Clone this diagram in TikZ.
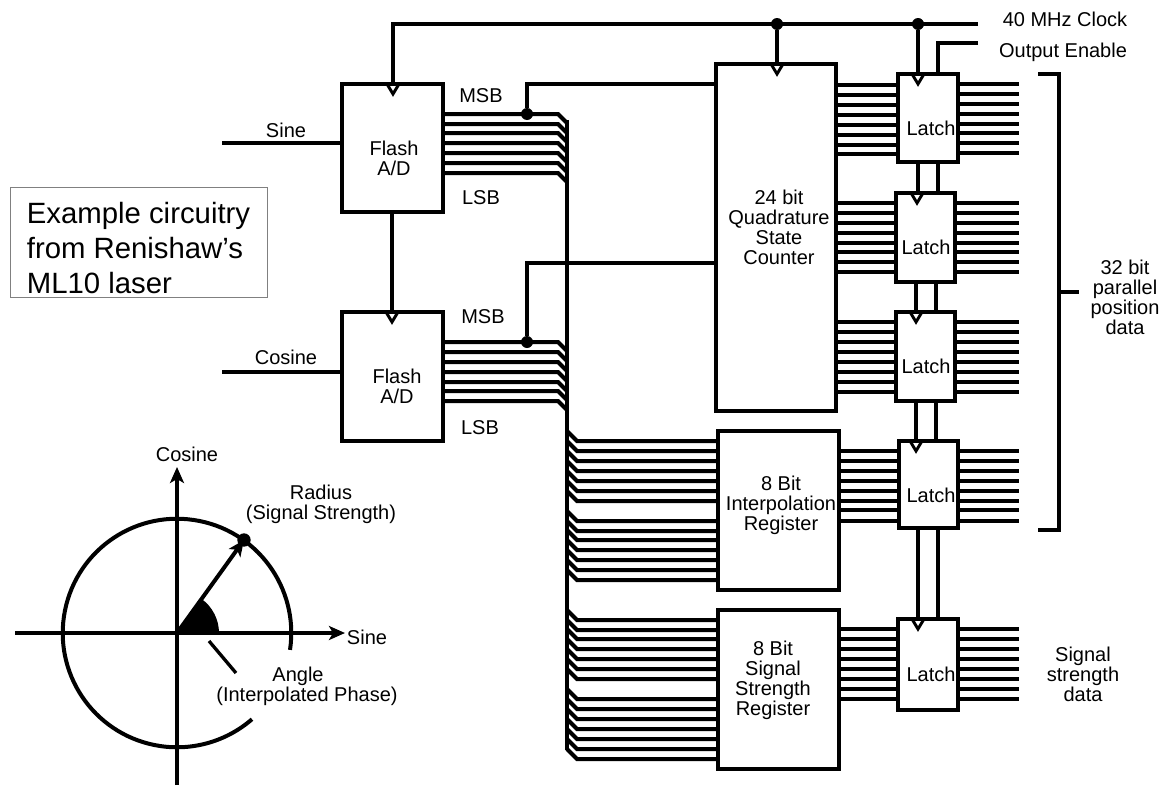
\documentclass[tikz,border=0pt]{standalone}
\usepackage{fontspec}
\setmainfont{Liberation Sans}
\usetikzlibrary{arrows.meta,calc}
\newcommand{\boxat}[5]{\node[boxstyle,minimum width={(#4-#2)*0.75pt},minimum height={(#5-#3)*0.75pt}] (#1) at ({(#2+#4)/2},{(#3+#5)/2}) {};}
\newcommand{\clockmark}[2]{\draw[markstyle] ({#2-6},0 |- #1.north) -- ([yshift=-7.5pt]#2,0 |- #1.north) -- ({#2+6},0 |- #1.north);}
\tikzset{
  boxstyle/.style={draw=black,line width=2.9pt,fill=white,inner sep=0pt,outer sep=0pt,rectangle},
  wire/.style={draw=black,line width=3pt,line cap=butt,line join=miter},
  thinwire/.style={draw=black,line width=2.5pt,line cap=butt},
  markstyle/.style={draw=black,line width=2.2pt,line join=miter},
  txt/.style={font=\fontsize{15}{15}\selectfont,inner sep=0pt,outer sep=0pt,align=center,text=black},
  dotstyle/.style={circle,fill=black,inner sep=0pt,minimum size=9pt,outer sep=0pt},
  headstyle/.style={-{Stealth[length=12pt,width=10.5pt,inset=3pt]}},
}
\begin{document}
\begin{tikzpicture}[x=0.75pt,y=-0.75pt]
\useasboundingbox (0,0) rectangle (1166,785);
% free ends
\coordinate (clkEnd) at (978,24);
\coordinate (oeEnd) at (978,43);
\coordinate (sineIn) at (222,143);
\coordinate (cosIn) at (222,372);
\coordinate (outR) at (1019,0);
\coordinate (busX) at (567,0);
\coordinate (busR) at (577,0);
\coordinate (busBend) at (558,0);
\coordinate (busTop) at (567,120);
\coordinate (busBot) at (567,750);
% boxes
\boxat{fa}{342}{84}{443}{212}
\boxat{fb}{342}{312}{443}{441}
\boxat{cnt}{716}{64}{836}{411}
\boxat{reg}{718}{431}{839}{590}
\boxat{sig}{718}{610}{839}{769}
\boxat{la}{898}{74}{958}{162}
\boxat{lb}{896}{193}{955}{282}
\boxat{lc}{896}{312}{955}{401}
\boxat{ld}{899}{441}{958}{528}
\boxat{le}{898}{619}{958}{710}
% clock
\node[dotstyle] (d1) at (777,24) {};
\node[dotstyle] (d2) at (918,24) {};
\draw[wire] (clkEnd) -| (393,0 |- fa.north);
\draw[wire] (d1) -- (777,0 |- cnt.north);
\draw[wire] (d2) -- (918,0 |- la.north);
\draw[wire] (oeEnd) -| (938,0 |- la.north);
\clockmark{fa}{393}
\clockmark{fb}{392}
\clockmark{cnt}{777}
\clockmark{la}{918}
\clockmark{lb}{917}
\clockmark{lc}{916}
\clockmark{ld}{916}
\clockmark{le}{918}
% latch chain
\draw[wire] (918,0 |- la.south) -- (918,0 |- lb.north);
\draw[thinwire] (938,0 |- la.south) -- (938,0 |- lb.north);
\draw[wire] (916,0 |- lb.south) -- (916,0 |- lc.north);
\draw[thinwire] (936,0 |- lb.south) -- (936,0 |- lc.north);
\draw[wire] (916,0 |- lc.south) -- (916,0 |- ld.north);
\draw[thinwire] (936,0 |- lc.south) -- (936,0 |- ld.north);
\draw[wire] (918,0 |- ld.south) -- (918,0 |- le.north);
\draw[thinwire] (938,0 |- ld.south) -- (938,0 |- le.north);
\draw[thinwire] (392,0 |- fa.south) -- (392,0 |- fb.north);
% inputs
\draw[wire] (sineIn) -- (sineIn -| fa.west);
\draw[wire] (cosIn) -- (cosIn -| fb.west);
% bus
\draw[wire] (busTop) -- (busBot);
\foreach \y in {114,124,133,143,153,163,173}
  \draw[wire] (fa.east |- 0,\y) -- (busBend |- 0,\y) -- (busX |- 0,{\y+9});
\foreach \y in {342,352,362,372,382,391,401}
  \draw[wire] (fb.east |- 0,\y) -- (busBend |- 0,\y) -- (busX |- 0,{\y+9});
\foreach \y in {441,451,461,471,481,491,501,521,531,540,550,560,570,580}
  \draw[wire] (busX |- 0,{\y-10}) -- (busR |- 0,\y) -- (reg.west |- 0,\y);
\foreach \y in {620,630,639,649,659,669,679,699,709,719,729,739,749,759}
  \draw[wire] (busX |- 0,{\y-10}) -- (busR |- 0,\y) -- (sig.west |- 0,\y);
% tap dots
\node[dotstyle] (d3) at (527,114) {};
\node[dotstyle] (d4) at (527,342) {};
\draw[wire] (d3) |- (cnt.west |- 0,84);
\draw[wire] (d4) |- (cnt.west |- 0,263);
% register to latch
\foreach \y in {85,95,105,115,125,135,145,154}
  \draw[wire] (cnt.east |- 0,\y) -- (la.west |- 0,\y);
\foreach \y in {84,94,104,114,124,133,143,153}
  \draw[wire] (la.east |- 0,\y) -- (outR |- 0,\y);
\foreach \y in {203,213,223,233,243,252,262,272}{
  \draw[wire] (cnt.east |- 0,\y) -- (lb.west |- 0,\y);
  \draw[wire] (lb.east |- 0,\y) -- (outR |- 0,\y);}
\foreach \y in {322,332,342,352,362,372,382,392}{
  \draw[wire] (cnt.east |- 0,\y) -- (lc.west |- 0,\y);
  \draw[wire] (lc.east |- 0,\y) -- (outR |- 0,\y);}
\foreach \y in {451,461,471,481,491,501,510,521}{
  \draw[wire] (reg.east |- 0,\y) -- (ld.west |- 0,\y);
  \draw[wire] (ld.east |- 0,\y) -- (outR |- 0,\y);}
\foreach \y in {629,639,649,659,669,679,689,699}{
  \draw[wire] (sig.east |- 0,\y) -- (le.west |- 0,\y);
  \draw[wire] (le.east |- 0,\y) -- (outR |- 0,\y);}
% bracket
\draw[wire] (1038,74) -- (1059,74) -- (1059,530) -- (1038,530);
\draw[thinwire] (1059,292) -- (1079,292);
% labels
\node[txt] (tclk) at (1065,19) {40 MHz Clock};
\node[txt] (toe) at (1063,52) {Output Enable};
\node[txt] (tsin) at (286,130) {Sine};
\node[txt] (tcos) at (286,357) {Cosine};
\node[txt] (tfa) at (394,158) {Flash\\A/D};
\node[txt] (tfb) at (397,386) {Flash\\A/D};
\node[txt] (tm1) at (481,96) {MSB};
\node[txt] (tl1) at (481,198) {LSB};
\node[txt] (tm2) at (483,317) {MSB};
\node[txt] (tl2) at (480,428) {LSB};
\node[txt] (tcnt) at (779,227) {24 bit\\Quadrature\\State\\Counter};
\node[txt] (treg) at (781,505) {8 Bit\\Interpolation\\Register};
\node[txt] (tsig) at (773,680) {8 Bit\\Signal\\Strength\\Register};
\node[txt] (tla) at (931,128) {Latch};
\node[txt] (tlb) at (926,247) {Latch};
\node[txt] (tlc) at (926,366) {Latch};
\node[txt] (tld) at (931,495) {Latch};
\node[txt] (tle) at (931,674) {Latch};
\node[txt] (t32) at (1125,297) {32 bit\\parallel\\position\\data};
\node[txt] (tss) at (1083,674) {Signal\\strength\\data};
% note box
\draw[draw=gray,line width=0.7pt] (10,187) rectangle (267,297);
\node[inner sep=0pt,outer sep=0pt,align=left,font=\fontsize{22}{26.25}\selectfont] (note) at (138.5,248) {Example circuitry\\from Renishaw’s\\ML10 laser};
% polar plot
\coordinate (O) at (177,633);
\coordinate (xL) at (15,633);
\coordinate (xR) at (345,633);
\coordinate (yB) at (177,785);
\coordinate (yT) at (177,467);
\fill[black] (O) -- ([shift={(0:31.5pt)}]O) arc[start angle=0,end angle=55,radius=31.5pt] -- cycle;
\draw[thinwire,headstyle] (xL) -- (xR);
\draw[wire,headstyle] (yB) -- (yT);
\draw[wire] ([shift={(-8.5:85.7pt)}]O) arc[start angle=-8.5,end angle=311,radius=85.7pt];
\node[dotstyle,minimum size=10pt] (rad) at (244,540) {};
\draw[wire,headstyle] (O) -- (rad.center);
\draw[thinwire] (209,641) -- (236,673);
\node[txt] (tc) at (187,454) {Cosine};
\node[txt] (trad) at (321,504) {Radius\\(Signal Strength)};
\node[txt] (ts) at (367,637) {Sine};
\node[txt] (tang) at (307,686) {Angle\hspace*{13.5pt}\\(Interpolated Phase)};
\end{tikzpicture}
\end{document}
